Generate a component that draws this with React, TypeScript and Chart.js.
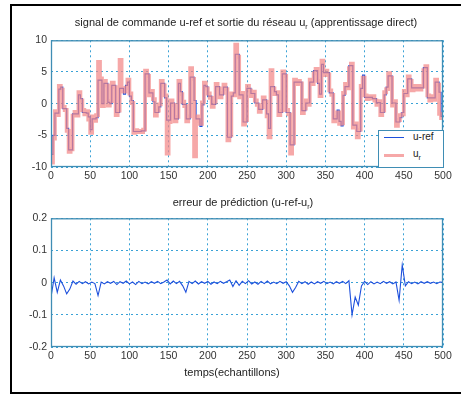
import React, { useEffect, useRef } from "react";
import { Chart, registerables } from "chart.js";
Chart.register(...registerables);

// sample grid step (samples) for the command signals
const SIGNAL_STEP = 2.5;
const ERR_STEP = 4;
const X_MAX = 500;

// u-ref (piecewise constant command), one level every 2.5 samples
const uRef = [
  -8, -5, -1.5, -1.5, 2.3, 2.6, -0.8, -0.8, -3.9, -7.3, -7.3, -1.6, -1.6, -1.6, 1.4, 0.8, -1.4, -1.4, -1.5, -2.1,
  -4.1, -2.4, -2.4, -2.2, 3.7, 3.7, 0, 3.2, 3.2, 0.2, 0, 2.9, 2.9, -1.4, -1.4, 2.4, 2.4, 1.5, 2.9, 3.4,
  1.2, 0.5, -4.4, -4.4, -4.4, -4.4, -4.3, -4.3, 4.7, 4.7, 1.7, 1.7, 0.3, -1.4, -1.4, -0.5, 3.2, 3.2, 0.9, -2.6,
  -2.6, 0.1, 0.1, -2.4, -2.4, 3.2, 1.9, -0.1, -0.1, -2.4, -2.4, 4.2, 4.2, 0.5, -2.4, -2.4, -3.6, -0.2, 2.9, 2.7,
  1.2, 1.2, -0.1, -0.1, 2.7, 2.7, 1.4, 1.4, 2.6, 2.6, -5.3, -5.3, 1.2, 1.7, 7.8, 7.8, 1.4, 1.4, -2.9, -2.9,
  2.4, 2.4, 1.6, 1.6, 0.1, 0.1, -0.9, -0.9, 0.6, 0.6, -1.6, -3.9, 2.7, 2.7, 1.9, 1.4, -1.4, -1.4, 4.7, 4.7,
  -1.4, -1.4, -6.5, -6.5, 3.4, 3.4, 3.4, 3.4, -1.1, -1.1, 0.1, 0.1, 3.4, 3.4, 5.2, 5.2, 3.2, 1.5, 6.2, 4.9,
  4.9, 4.9, 1.7, 1.7, -2.4, -2.4, -1, -2.8, -3.5, 1.3, 2.7, 2.7, 6, 6, -3.4, -3.4, -4.4, -4.4, 2.4, 4.5,
  1, 1, 1, 1, 0.8, 0.8, 0.15, 0.15, -1.4, -1.4, 1.4, 2.6, 4.4, 4.4, 0.1, 0.1, -2.9, -2.9, -2.2, -1.4,
  1.6, 1.6, 3.9, 3.9, 2.5, 2.5, 2.5, 2.5, 2.5, 2.5, 5.7, 5.7, 0.9, 0.9, 0.9, 0.9, 3.4, 3.4, 1.8, -2,
];

// u_r (network output), one value every 2.5 samples
const uR = [
  -9.3, -5.5, -1.2, -1.8, 2.8, 2.2, -0.5, -1.0, -4.3, -7.6, -7.2, -1.9, -1.3, -1.9, 1.8, 0.5, -1.0, -1.7, -1.2, -2.5,
  -4.6, -2.0, -2.7, -1.8, 6.6, 4.0, -0.4, 3.6, 2.9, -0.3, 0.4, 3.3, 2.6, -1.8, -1.1, 6.9, 2.0, 1.9, 2.5, 3.8,
  1.6, 0.1, -4.6, -4.2, -4.5, -4.3, -4.5, -4.1, 5.2, 4.4, 1.3, 2.0, 0.7, -1.9, -1.1, -0.1, 3.6, 2.9, 1.3, -7.9,
  -2.9, 0.5, -0.2, -2.8, -2.1, 3.6, 1.5, 0.3, -0.4, -2.8, -2.0, 5.6, 3.9, -8.3, -2.0, -2.7, -3.2, 0.2, 3.3, 2.4,
  1.6, 0.9, -0.5, 0.2, 3.1, 2.4, 1.0, 1.7, 3.0, 2.3, -5.8, -5.0, 1.6, 1.3, 9.3, 7.4, 1.0, 1.7, -3.3, -2.6,
  2.8, 2.1, 1.2, 1.9, 0.5, -0.2, -1.3, -0.6, 1.0, 0.3, -2.0, -5.3, 5.3, 2.4, 1.5, 1.8, -1.8, -1.1, 5.1, 4.4,
  -1.0, -1.7, -7.9, -6.2, 3.8, 3.1, 3.6, 3.2, -1.5, -0.8, 0.5, -0.2, 3.8, 3.1, 4.8, 5.5, 3.6, 1.2, 6.8, 4.5,
  5.2, 4.6, 2.1, 1.4, -2.8, -2.1, -1.4, -3.2, -3.1, 1.7, 3.1, 2.4, 5.6, 6.3, -3.8, -3.1, -5.3, -4.1, 2.8, 4.1,
  1.3, 0.7, 1.2, 0.8, 1.2, 0.5, -0.2, 0.4, -1.8, -1.1, 1.8, 2.3, 4.8, 4.1, -0.3, 0.4, -3.5, -2.6, -1.8, -1.7,
  2.0, 1.3, 4.3, 3.6, 2.1, 2.8, 2.2, 2.8, 2.2, 2.7, 5.3, 5.9, 1.3, 0.5, 1.2, 0.6, 3.8, 3.0, -1.6, -2.3,
];

// prediction error u-ref - u_r, one value every 4 samples
const errPred = [
  -0.045, 0.015, -0.03, 0.008, -0.01, -0.035, -0.02, 0.005, -0.005, 0.004,
  -0.003, 0.003, -0.004, 0.002, -0.003, -0.04, 0.002, -0.004, 0.003, -0.002,
  0.004, -0.006, 0.003, -0.002, 0.005, -0.004, 0.002, -0.006, 0.004, -0.003,
  0.002, -0.004, 0.003, -0.002, 0.004, -0.003, 0.002, 0.008, -0.004, 0.005,
  -0.003, 0.004, -0.01, -0.03, 0.004, -0.003, 0.005, -0.004, 0.003, -0.002,
  0.004, -0.005, 0.002, -0.003, 0.004, -0.002, 0.003, 0.008, -0.012, 0.006,
  -0.008, 0.004, -0.003, 0.006, -0.004, 0.002, -0.005, 0.004, -0.003, 0.005,
  -0.004, 0.002, -0.003, 0.004, -0.002, 0.003, -0.01, -0.03, -0.015, 0.004,
  -0.003, 0.003, -0.005, 0.002, -0.004, 0.003, -0.002, 0.004, -0.003, 0.002,
  -0.004, 0.003, -0.002, 0.004, -0.003, 0.006, -0.1, -0.045, -0.07, -0.01,
  0.004, -0.006, 0.003, -0.004, 0.002, -0.003, 0.004, -0.002, 0.003, -0.004,
  0.002, -0.055, 0.055, -0.01, 0.003, -0.003, 0.002, -0.004, 0.003, -0.002,
  0.003, -0.002, 0.002, -0.003, 0.002, 0.001,
];

const TOP_TICKS = [-10, -5, 0, 5, 10];
const BOTTOM_TICKS = [-0.2, -0.1, 0, 0.1, 0.2];

const AXIS_COLOR = "#3f8db4";
const GRID_COLOR = "#3aa2d6";
const BLUE = "rgb(30,80,220)";
const RED = "rgba(242,135,135,0.72)";
const FONT = "'Liberation Sans', Arial, sans-serif";

const stepSeries = (vals: number[], step: number) => {
  const pts = vals.map((v, i) => ({ x: i * step, y: v }));
  pts.push({ x: X_MAX, y: vals[vals.length - 1] });
  return pts;
};

const boxPlugin = {
  id: "box",
  afterDraw(chart: any) {
    const { ctx, chartArea: a } = chart;
    ctx.save();
    ctx.strokeStyle = AXIS_COLOR;
    ctx.lineWidth = 1.3;
    ctx.strokeRect(a.left + 0.5, a.top + 0.5, a.right - a.left - 1, a.bottom - a.top - 1);
    ctx.restore();
  },
};

const scalesFor = (ticks: number[], xh: number) => ({
  x: {
    type: "linear" as const,
    min: 0,
    max: X_MAX,
    afterFit: (s: any) => { s.height = xh; },
    afterBuildTicks: (s: any) => {
      const t = [];
      for (let v = 0; v <= X_MAX; v += 50) t.push({ value: v });
      s.ticks = t;
    },
    grid: { color: GRID_COLOR, lineWidth: 1, drawTicks: false },
    border: { display: false, dash: [2, 3] },
    ticks: { padding: 3, maxRotation: 0, autoSkip: false, color: "#333", font: { family: FONT, size: 10.5 } },
  },
  y: {
    type: "linear" as const,
    min: ticks[0],
    max: ticks[ticks.length - 1],
    afterFit: (s: any) => { s.width = 51; },
    afterBuildTicks: (s: any) => { s.ticks = ticks.map((v) => ({ value: v })); },
    grid: { color: GRID_COLOR, lineWidth: 1, drawTicks: false },
    border: { display: false, dash: [2, 3] },
    ticks: {
      padding: 4,
      color: "#333",
      font: { family: FONT, size: 10.5 },
      callback: (v: any) => String(Math.round(v * 10) / 10),
    },
  },
});

export default function App() {
  const c1 = useRef<HTMLCanvasElement>(null);
  const c2 = useRef<HTMLCanvasElement>(null);

  useEffect(() => {
    const ch1 = new Chart(c1.current!, {
      type: "line",
      data: {
        datasets: [
          {
            label: "u-ref",
            data: stepSeries(uRef, SIGNAL_STEP),
            borderColor: BLUE,
            borderWidth: 1.2,
            stepped: true,
            pointRadius: 0,
            order: 1,
          },
          {
            label: "u_r",
            data: stepSeries(uR, SIGNAL_STEP),
            borderColor: RED,
            borderWidth: 3.8,
            stepped: true,
            pointRadius: 0,
            order: 0,
          },
        ],
      },
      options: {
        responsive: false,
        animation: false,
        layout: { padding: { left: 0, right: 18, top: 5, bottom: 0 } },
        plugins: { legend: { display: false }, tooltip: { enabled: false } },
        scales: scalesFor(TOP_TICKS, 23),
      },
      plugins: [boxPlugin],
    });

    const ch2 = new Chart(c2.current!, {
      type: "line",
      data: {
        datasets: [
          {
            label: "erreur",
            data: errPred.map((v, i) => ({ x: i * ERR_STEP, y: v })),
            borderColor: BLUE,
            borderWidth: 1.1,
            pointRadius: 0,
          },
        ],
      },
      options: {
        responsive: false,
        animation: false,
        layout: { padding: { left: 0, right: 18, top: 6, bottom: 0 } },
        plugins: { legend: { display: false }, tooltip: { enabled: false } },
        scales: scalesFor(BOTTOM_TICKS, 24),
      },
      plugins: [boxPlugin],
    });

    return () => {
      ch1.destroy();
      ch2.destroy();
    };
  }, []);

  const txt: React.CSSProperties = {
    position: "absolute",
    fontFamily: FONT,
    color: "#222",
    whiteSpace: "nowrap",
  };

  return (
    <div style={{ position: "absolute", left: 0, top: 0, width: 461, height: 396, background: "#fff", overflow: "hidden" }}>
      <div style={{ position: "absolute", left: 10, top: 4, width: 480, height: 386, border: "2px solid #000" }} />
      <canvas ref={c1} width={461} height={160} style={{ position: "absolute", left: 0, top: 30 }} />
      <canvas ref={c2} width={461} height={163} style={{ position: "absolute", left: 0, top: 208 }} />

      <div style={{ ...txt, left: 46, width: 400, top: 16, textAlign: "center", fontSize: 11, lineHeight: "13px" }}>
        signal de commande u-ref et sortie du réseau u<sub style={{ fontSize: 7 }}>r</sub> (apprentissage direct)
      </div>
      <div style={{ ...txt, left: 43, width: 400, top: 196, textAlign: "center", fontSize: 11, lineHeight: "13px" }}>
        erreur de prédiction (u-ref-u<sub style={{ fontSize: 7 }}>r</sub>)
      </div>
      <div style={{ ...txt, left: 32, width: 400, top: 366, textAlign: "center", fontSize: 11, lineHeight: "13px" }}>
        temps(echantillons)
      </div>

      <div style={{ position: "absolute", left: 378, top: 130, width: 64, height: 36, border: `1px solid ${AXIS_COLOR}`, background: "#fff" }}>
        <div style={{ position: "absolute", left: 5, top: 6, width: 20, borderTop: `1.5px solid ${BLUE}` }} />
        <div style={{ ...txt, left: 34, top: 0, fontSize: 10, lineHeight: "12px" }}>u-ref</div>
        <div style={{ position: "absolute", left: 5, top: 23, width: 20, borderTop: `3px solid ${RED}` }} />
        <div style={{ ...txt, left: 34, top: 17, fontSize: 10, lineHeight: "12px" }}>
          u<sub style={{ fontSize: 7 }}>r</sub>
        </div>
      </div>
    </div>
  );
}
